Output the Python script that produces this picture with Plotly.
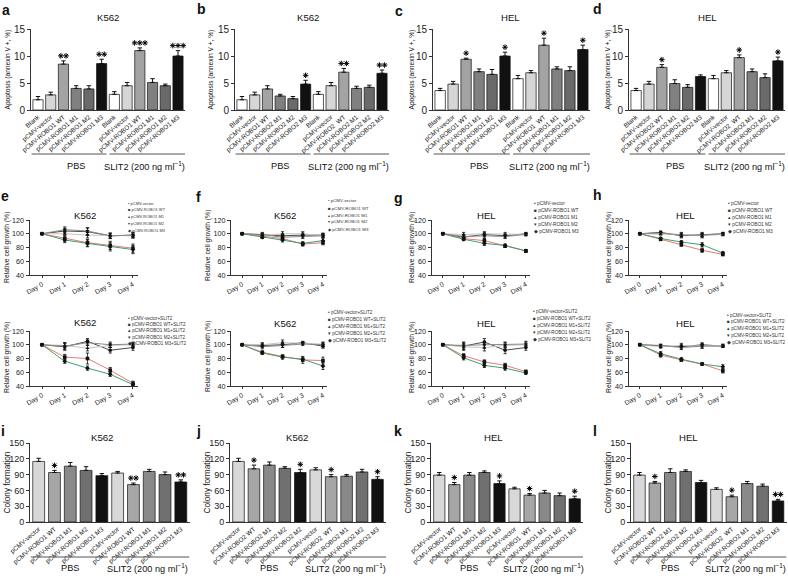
import plotly.graph_objects as go

W, H = 788, 581
FONT = "Liberation Sans, Arial, sans-serif"

# ---------------- Data ----------------
# Row 1: apoptosis (annexin V +, %)
a_labels = ["Blank", "pCMV-vector", "pCMV-ROBO1 WT", "pCMV-ROBO1 M1", "pCMV-ROBO1 M2", "pCMV-ROBO1 M3",
            "Blank", "pCMV-vector", "pCMV-ROBO1 WT", "pCMV-ROBO1 M1", "pCMV-ROBO1 M2", "pCMV-ROBO1 M3"]
a_vals = [1.9, 2.8, 8.5, 4.0, 3.9, 8.6, 2.9, 4.5, 11.0, 5.1, 4.5, 10.0]
a_errs = [0.6, 0.5, 0.6, 0.5, 0.6, 0.8, 0.5, 0.6, 0.5, 0.7, 0.3, 1.0]
a_stars = [0, 0, 2, 0, 0, 2, 0, 0, 3, 0, 0, 3]

b_labels = ["Blank", "pCMV-vector", "pCMV-ROBO1 WT", "pCMV-ROBO2 M1", "pCMV-ROBO2 M2", "pCMV-ROBO2 M3",
            "Blank", "pCMV-vector", "pCMV-ROBO2  WT", "pCMV-ROBO2 M1", "pCMV-ROBO2 M2", "pCMV-ROBO2 M3"]
b_vals = [1.9, 2.8, 3.9, 2.6, 2.1, 4.8, 2.9, 4.5, 7.0, 4.0, 4.2, 6.8]
b_errs = [0.6, 0.5, 0.6, 0.3, 0.4, 0.7, 0.5, 0.6, 0.7, 0.4, 0.4, 0.6]
b_stars = [0, 0, 0, 0, 0, 1, 0, 0, 2, 0, 0, 2]

c_labels = ["Blank", "pCMV-vector", "pCMV-ROBO1 WT", "pCMV-ROBO1 M1", "pCMV-ROBO1 M2", "pCMV-ROBO1 M3",
            "Blank", "pCMV-vector", "pCMV-ROBO1  WT", "pCMV-ROBO1 M1", "pCMV-ROBO1 M2", "pCMV-ROBO1 M3"]
c_vals = [3.6, 4.8, 9.4, 7.1, 6.6, 10.0, 5.8, 6.9, 12.0, 7.6, 7.3, 11.2]
c_errs = [0.4, 0.5, 0.2, 0.5, 0.9, 0.7, 0.6, 0.4, 1.3, 0.4, 0.7, 0.8]
c_stars = [0, 0, 1, 0, 0, 1, 0, 0, 1, 0, 0, 1]

d_labels = ["Blank", "pCMV-vector", "pCMV-ROBO2 WT", "pCMV-ROBO2 M1", "pCMV-ROBO2 M2", "pCMV-ROBO2 M3",
            "Blank", "pCMV-vector", "pCMV-ROBO2  WT", "pCMV-ROBO2 M1", "pCMV-ROBO2 M2", "pCMV-ROBO2 M3"]
d_vals = [3.6, 4.8, 7.9, 4.9, 4.2, 6.2, 5.8, 6.9, 9.7, 7.1, 6.0, 9.1]
d_errs = [0.4, 0.5, 0.5, 0.7, 0.5, 0.3, 0.6, 0.4, 0.5, 0.5, 0.7, 0.7]
d_stars = [0, 0, 1, 0, 0, 0, 0, 0, 1, 0, 0, 1]

apop_colors = ["#ffffff", "#d6d6d6", "#a3a3a3", "#808080", "#6a6a6a", "#111111"]

# Rows 2-3: relative cell growth (%)
days = ["Day 0", "Day 1", "Day 2", "Day 3", "Day 4"]
growth_names = ["pCMV-vector", "pCMV-ROBO1 WT", "pCMV-ROBO1 M1", "pCMV-ROBO1 M2", "pCMV-ROBO1 M3"]
growth_colors = ["#4a4a4a", "#e77b72", "#cbc4b6", "#8a8a8a", "#3f9e74"]
growth_symbols = ["circle", "square", "triangle-up", "triangle-down", "diamond"]
legend_glyphs = ["•", "■", "▴", "▾", "◆"]

# order: vector, WT, M1, M2, M3
e_top_vals = [[100, 104, 103, 97, 98], [100, 93, 87, 83, 79], [100, 100, 98, 97, 97],
              [100, 106, 104, 97, 98], [100, 91, 86, 81, 77]]
e_top_errs = [[0, 4, 5, 4, 4], [0, 4, 5, 6, 6], [0, 3, 4, 3, 3], [0, 4, 5, 4, 4], [0, 4, 5, 6, 6]]
e_bot_vals = [[100, 97, 105, 92, 96], [100, 82, 80, 63, 44], [100, 99, 95, 99, 100],
              [100, 98, 103, 100, 101], [100, 76, 66, 57, 42]]
e_bot_errs = [[0, 5, 4, 4, 4], [0, 4, 8, 4, 3], [0, 4, 4, 3, 3], [0, 5, 4, 4, 3], [0, 3, 3, 3, 2]]

f_top_vals = [[100, 98, 97, 98, 98], [100, 96, 93, 85, 87], [100, 97, 100, 100, 97],
              [100, 99, 95, 96, 97], [100, 95, 91, 86, 90]]
f_top_errs = [[0, 3, 3, 3, 3], [0, 2, 3, 3, 3], [0, 3, 3, 3, 3], [0, 3, 3, 3, 3], [0, 2, 3, 2, 4]]
f_bot_vals = [[100, 99, 100, 103, 98], [100, 89, 83, 78, 77], [100, 100, 103, 102, 101],
              [100, 97, 99, 101, 100], [100, 88, 82, 79, 69]]
f_bot_errs = [[0, 3, 4, 2, 3], [0, 2, 2, 5, 5], [0, 3, 4, 2, 3], [0, 3, 3, 2, 3], [0, 2, 3, 3, 5]]

g_top_vals = [[100, 95, 99, 97, 100], [100, 93, 90, 82, 75], [100, 99, 100, 99, 99],
              [100, 96, 97, 96, 99], [100, 92, 86, 83, 75]]
g_top_errs = [[0, 3, 3, 3, 2], [0, 2, 3, 2, 2], [0, 3, 3, 3, 2], [0, 3, 3, 3, 2], [0, 2, 3, 2, 2]]
g_bot_vals = [[100, 98, 104, 92, 96], [100, 84, 75, 70, 61], [100, 97, 96, 99, 100],
              [100, 99, 100, 100, 101], [100, 81, 70, 66, 59]]
g_bot_errs = [[0, 5, 5, 5, 4], [0, 3, 3, 3, 2], [0, 5, 5, 4, 4], [0, 5, 5, 4, 4], [0, 3, 3, 3, 2]]

h_top_vals = [[100, 102, 97, 99, 100], [100, 92, 84, 76, 70], [100, 100, 99, 97, 99],
              [100, 101, 98, 98, 100], [100, 93, 88, 84, 72]]
h_top_errs = [[0, 2, 3, 3, 2], [0, 2, 2, 3, 2], [0, 2, 3, 3, 2], [0, 2, 3, 3, 2], [0, 2, 2, 3, 2]]
h_bot_vals = [[100, 98, 97, 100, 98], [100, 85, 78, 72, 62], [100, 97, 99, 98, 99],
              [100, 99, 96, 98, 98], [100, 87, 79, 72, 68]]
h_bot_errs = [[0, 2, 3, 3, 2], [0, 3, 2, 1, 3], [0, 2, 3, 3, 2], [0, 2, 3, 3, 2], [0, 3, 2, 1, 3]]

# Row 4: colony formation
i_labels = ["pCMV-vector", "pCMV-ROBO1 WT", "pCMV-ROBO1 M1", "pCMV-ROBO1 M2", "pCMV-ROBO1 M3",
            "pCMV-vector", "pCMV-ROBO1 WT", "pCMV-ROBO1 M1", "pCMV-ROBO1 M2", "pCMV-ROBO1 M3"]
i_vals = [115, 94, 106, 98, 88, 93, 71, 96, 90, 76]
i_errs = [6, 4, 7, 7, 4, 3, 3, 4, 5, 4]
i_stars = [0, 1, 0, 0, 0, 0, 2, 0, 0, 2]

j_labels = ["pCMV-vector", "pCMV-ROBO2 WT", "pCMV-ROBO2 M1", "pCMV-ROBO2 M2", "pCMV-ROBO2 M2",
            "pCMV-vector", "pCMV-ROBO2  WT", "pCMV-ROBO2 M1", "pCMV-ROBO2 M2", "pCMV-ROBO2 M3"]
j_vals = [115, 101, 108, 102, 94, 99, 86, 87, 95, 81]
j_errs = [6, 7, 6, 3, 6, 4, 4, 3, 5, 5]
j_stars = [0, 1, 0, 0, 1, 0, 1, 0, 0, 1]

k_labels = ["pCMV-vector", "pCMV-ROBO1 WT", "pCMV-ROBO1 M1", "pCMV-ROBO1 M2", "pCMV-ROBO1 M3",
            "pCMV-vector", "pCMV-ROBO1  WT", "pCMV-ROBO1 M1", "pCMV-ROBO1 M2", "pCMV-ROBO1 M3"]
k_vals = [89, 71, 89, 94, 73, 63, 51, 55, 50, 44]
k_errs = [5, 4, 5, 3, 5, 3, 3, 5, 5, 5]
k_stars = [0, 1, 0, 0, 1, 0, 1, 0, 0, 1]

l_labels = ["pCMV-vector", "pCMV-ROBO2 WT", "pCMV-ROBO2 M1", "pCMV-ROBO2 M2", "pCMV-ROBO2 M3",
            "pCMV-vector", "pCMV-ROBO2  WT", "pCMV-ROBO2 M1", "pCMV-ROBO2 M2", "pCMV-ROBO2 M3"]
l_vals = [89, 74, 94, 96, 75, 62, 48, 73, 68, 40]
l_errs = [5, 3, 7, 3, 4, 3, 3, 4, 4, 3]
l_stars = [0, 1, 0, 0, 0, 0, 1, 0, 0, 2]

colony_colors = ["#d8d8d8", "#a6a6a6", "#898989", "#707070", "#111111"]

group_pbs = "PBS"
group_slit = "SLIT2 (200 ng ml<sup>−1</sup>)"

# ---------------- Helpers ----------------
fig = go.Figure()
layout = {}
annotations = []
shapes = []


def xd(x0, x1):
    return [x0 / W, x1 / W]


def yd(ytop, ybot):
    return [1 - ybot / H, 1 - ytop / H]


def axname(n):
    return ("x" if n == 1 else f"x{n}"), ("y" if n == 1 else f"y{n}")


def lay(n):
    return ("xaxis" if n == 1 else f"xaxis{n}"), ("yaxis" if n == 1 else f"yaxis{n}")


def ann(x, y, text, size, bold=False, angle=0, xanchor="center", yanchor="middle",
        xref="paper", color="#111"):
    annotations.append(dict(
        x=x if xref != "paper" else x / W, y=1 - y / H, xref=xref, yref="paper",
        text=f"<b>{text}</b>" if bold else text, showarrow=False, textangle=angle,
        xanchor=xanchor, yanchor=yanchor, borderpad=0,
        font=dict(size=size, color=color, family=FONT)))


AX_LINE = "#333"


def bar_panel(n, labels, vals, errs, stars, colors, xpx, ypx, ymax, dtick, bw,
              ytitle, ytitle_x, ytitle_size, ytick_size, group_split, pbs_x, slit_x,
              grp_line_y, grp_text_y):
    xa, ya = axname(n)
    xl, yl = lay(n)
    nb = len(vals)
    xr = [-0.55, nb - 0.45]
    fig.add_trace(go.Bar(
        x=list(range(nb)), y=vals, width=bw, xaxis=xa, yaxis=ya,
        marker=dict(color=colors, line=dict(color="#111", width=0.7)),
        error_y=dict(type="data", array=errs, arrayminus=[0] * nb, symmetric=False,
                     color="#111", thickness=1, width=2.2),
        showlegend=False, hoverinfo="skip"))
    # significance asterisks as marker symbols above each error bar
    x_per_px = (xr[1] - xr[0]) / (xpx[1] - xpx[0])
    y_per_px = ymax / (ypx[1] - ypx[0])
    sx, sy = [], []
    for i, k in enumerate(stars):
        for j in range(k):
            sx.append(i + (j - (k - 1) / 2) * 5.2 * x_per_px)
            sy.append(vals[i] + errs[i] + 5.0 * y_per_px)
    fig.add_trace(go.Scatter(
        x=sx, y=sy, mode="markers", xaxis=xa, yaxis=ya, cliponaxis=False,
        marker=dict(symbol="asterisk-open", size=4.6, color="#000",
                    line=dict(color="#000", width=1.0)),
        showlegend=False, hoverinfo="skip"))
    layout[xl] = dict(domain=xd(*xpx), anchor=ya, range=xr,
                      tickvals=list(range(nb)), ticktext=labels, tickangle=-40,
                      tickfont=dict(size=6.4, color="#222", family=FONT),
                      showline=True, linecolor=AX_LINE, linewidth=1, ticks="",
                      showgrid=False, zeroline=False, automargin=False, fixedrange=True)
    layout[yl] = dict(domain=yd(*ypx), anchor=xa, range=[0, ymax], dtick=dtick,
                      ticks="outside", ticklen=3, tickwidth=1, tickcolor=AX_LINE,
                      tickfont=dict(size=ytick_size, color="#222", family=FONT),
                      showline=True, linecolor=AX_LINE, linewidth=1,
                      showgrid=False, zeroline=False, automargin=False, fixedrange=True)
    ann(ytitle_x, (ypx[0] + ypx[1]) / 2, ytitle, ytitle_size, angle=-90)
    yline = 1 - grp_line_y / H
    for x0, x1 in [(-0.5, group_split - 0.12), (group_split + 0.12, nb - 0.45)]:
        shapes.append(dict(type="line", xref=xa, yref="paper", x0=x0, x1=x1, y0=yline, y1=yline,
                           line=dict(color="#555", width=1)))
    ann(pbs_x, grp_text_y, group_pbs, 9.2, xref=xa)
    ann(slit_x, grp_text_y, group_slit, 9.2, xref=xa)


def line_panel(n, vals, errs, xpx, ypx, names_suffix, legend_x, legend_y0, legend_dy, legend_size):
    xa, ya = axname(n)
    xl, yl = lay(n)
    draw_order = [0, 2, 3, 1, 4]
    for s in draw_order:
        fig.add_trace(go.Scatter(
            x=list(range(5)), y=vals[s], mode="lines+markers", xaxis=xa, yaxis=ya,
            line=dict(color=growth_colors[s], width=1),
            marker=dict(symbol=growth_symbols[s], size=3.6, color="#111"),
            error_y=dict(type="data", array=errs[s], color="#111", thickness=0.8, width=1.6),
            showlegend=False, hoverinfo="skip", cliponaxis=False))
    layout[xl] = dict(domain=xd(*xpx), anchor=ya, range=[-0.55, 4.2],
                      tickvals=list(range(5)), ticktext=days, tickangle=-30,
                      tickfont=dict(size=6.8, color="#222", family=FONT),
                      showline=True, linecolor=AX_LINE, linewidth=1, ticks="outside",
                      ticklen=2, tickcolor=AX_LINE,
                      showgrid=False, zeroline=False, automargin=False, fixedrange=True)
    layout[yl] = dict(domain=yd(*ypx), anchor=xa, range=[40, 120], dtick=20,
                      ticks="outside", ticklen=3, tickwidth=1, tickcolor=AX_LINE,
                      tickfont=dict(size=7.2, color="#222", family=FONT),
                      showline=True, linecolor=AX_LINE, linewidth=1,
                      showgrid=False, zeroline=False, automargin=False, fixedrange=True)
    for k in range(5):
        ann(legend_x, legend_y0 + k * legend_dy,
            f"{legend_glyphs[k]} {growth_names[k]}{names_suffix}", legend_size,
            xanchor="left", color="#333")


# ---------------- Row 1 ----------------
TOP_Y = (29, 110)
for n, lab, v, e, s, xp, tx in [
        (1, a_labels, a_vals, a_errs, a_stars, (31, 185), 7),
        (2, b_labels, b_vals, b_errs, b_stars, (235, 389), 210),
        (3, c_labels, c_vals, c_errs, c_stars, (433, 590), 411),
        (4, d_labels, d_vals, d_errs, d_stars, (629, 785), 607)]:
    bar_panel(n, lab, v, e, s, apop_colors * 2, xp, TOP_Y, 15, 5, 0.8,
              "Apoptosis (annexin V +, %)", tx, 6.6, 10, 5.5, 3.0, 8.4, 154, 166)

# ---------------- Rows 2-3 ----------------
MT = (220, 275)
MB = (331, 386)
line_panel(5, e_top_vals, e_top_errs, (29.5, 137.5), MT, "", 127, 203, 6.8, 4.0)
line_panel(6, e_bot_vals, e_bot_errs, (29.5, 137.5), MB, "+SLIT2", 127, 318, 6.4, 4.6)
line_panel(7, f_top_vals, f_top_errs, (231, 327), MT, "", 327, 201, 7.0, 4.4)
line_panel(8, f_bot_vals, f_bot_errs, (231, 327), MB, "+SLIT2", 327, 312, 7.0, 4.6)
line_panel(9, g_top_vals, g_top_errs, (431.5, 530), MT, "", 533, 203, 7.0, 4.8)
line_panel(10, g_bot_vals, g_bot_errs, (431.5, 530), MB, "+SLIT2", 532, 311, 7.2, 4.6)
line_panel(11, h_top_vals, h_top_errs, (628.5, 727), MT, "", 727, 203, 7.0, 4.8)
line_panel(12, h_bot_vals, h_bot_errs, (628.5, 727), MB, "+SLIT2", 726, 315, 6.8, 4.6)

for xx, yy in [(7, 248), (7, 358), (208, 246), (208, 357), (412, 248), (412, 358), (609, 248), (609, 358)]:
    ann(xx, yy, "Relative cell growth (%)", 6.8, angle=-90)

# ---------------- Row 4 ----------------
BOT_Y = (443, 522)
for n, lab, v, e, s, xp, tx in [
        (13, i_labels, i_vals, i_errs, i_stars, (30, 189.5), 7),
        (14, j_labels, j_vals, j_errs, j_stars, (230, 386), 207),
        (15, k_labels, k_vals, k_errs, k_stars, (431, 583), 408),
        (16, l_labels, l_vals, l_errs, l_stars, (631, 786.5), 608)]:
    bar_panel(n, lab, v, e, s, colony_colors * 2, xp, BOT_Y, 150, 30, 0.75,
              "Colony formation", tx, 8.2, 9, 4.5, 2.0, 6.9, 557, 568)

# ---------------- Titles & panel letters ----------------
titles = [("K562", 108, 18), ("K562", 308, 18), ("HEL", 510, 18), ("HEL", 707, 18),
          ("K562", 85, 215), ("K562", 85, 322), ("K562", 285, 215), ("K562", 285, 323),
          ("HEL", 486, 215), ("HEL", 486, 323), ("HEL", 685, 215), ("HEL", 685, 323),
          ("K562", 102, 437), ("K562", 297, 437), ("HEL", 493, 437), ("HEL", 688, 437)]
for t, x, y in titles:
    ann(x, y, t, 9.6)

letters = [("a", 1, 10), ("b", 196, 9), ("c", 394, 11), ("d", 592, 9),
           ("e", 0, 196), ("f", 195, 197), ("g", 393, 198), ("h", 592, 195),
           ("i", 0, 431), ("j", 195, 431), ("k", 393, 431), ("l", 592, 431)]
for t, x, y in letters:
    ann(x, y, t, 14, bold=True, xanchor="left")

fig.update_layout(
    width=W, height=H, margin=dict(l=0, r=0, t=0, b=0),
    paper_bgcolor="white", plot_bgcolor="white", showlegend=False,
    font=dict(family=FONT, color="#111"), barmode="overlay",
    annotations=annotations, shapes=shapes, **layout)

fig.write_html("out.html", config={"displayModeBar": False},
               post_script="document.body.style.margin='0';")
